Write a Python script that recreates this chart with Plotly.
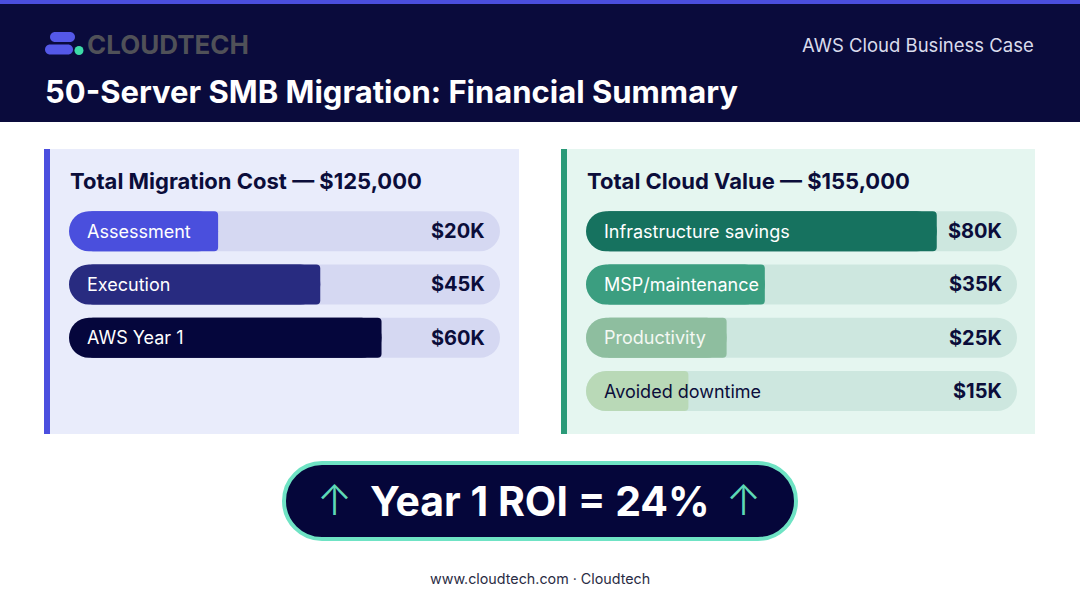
import plotly.graph_objects as go

# ---------------- data ----------------
cost_items = ["Assessment", "Execution", "AWS Year 1"]
cost_values = [20, 45, 60]          # $K
value_items = ["Infrastructure savings", "MSP/maintenance", "Productivity", "Avoided downtime"]
value_values = [80, 35, 25, 15]     # $K
cost_total = 125000
value_total = 155000
roi_pct = 24
brand = "CLOUDTECH"
header_tag = "AWS Cloud Business Case"
main_title = "50-Server SMB Migration: Financial Summary"
footer = "www.cloudtech.com · Cloudtech"

# ---------------- style ----------------
W, H = 1080, 603
FONT = "Inter"
NAVY = "#0A0B3C"
INK = "#0B0D3A"

def px(x):
    return x / W

def py(y):
    return 1 - y / H

def P(x, y):
    return f"{px(x):.5f},{py(y):.5f}"

def rounded_path(x0, y0, x1, y1, r):
    k = 0.5523 * r
    return (f"M {P(x0 + r, y0)} L {P(x1 - r, y0)} "
            f"C {P(x1 - r + k, y0)} {P(x1, y0 + r - k)} {P(x1, y0 + r)} "
            f"L {P(x1, y1 - r)} "
            f"C {P(x1, y1 - r + k)} {P(x1 - r + k, y1)} {P(x1 - r, y1)} "
            f"L {P(x0 + r, y1)} "
            f"C {P(x0 + r - k, y1)} {P(x0, y1 - r + k)} {P(x0, y1 - r)} "
            f"L {P(x0, y0 + r)} "
            f"C {P(x0, y0 + r - k)} {P(x0 + r - k, y0)} {P(x0 + r, y0)} Z")

def rect(x0, y0, x1, y1, color):
    return dict(type="rect", xref="paper", yref="paper", layer="below",
                x0=px(x0), x1=px(x1), y0=py(y1), y1=py(y0),
                fillcolor=color, line=dict(width=0))

def rpath(x0, y0, x1, y1, r, color, line=None, layer="below"):
    return dict(type="path", xref="paper", yref="paper", layer=layer,
                path=rounded_path(x0, y0, x1, y1, r), fillcolor=color,
                line=line or dict(width=0))

shapes = [
    rect(0, 0, W, H, "#FFFFFF"),
    rect(0, 0, W, 122, NAVY),
    rect(0, 0, W, 4, "#4B4EDD"),
    # logo
    rpath(50, 32, 75, 42, 5, "#5458E8"),
    rpath(45, 44.5, 73, 54.5, 5, "#5458E8"),
    dict(type="circle", xref="paper", yref="paper", layer="below",
         x0=px(74.5), x1=px(83.5), y0=py(55), y1=py(46),
         fillcolor="#3DDBA8", line=dict(width=0)),
    # panels
    rect(44, 149, 519, 434, "#E9ECFB"),
    rect(44, 149, 50, 434, "#4B4FDF"),
    rect(561, 149, 1035, 434, "#E5F6F0"),
    rect(561, 149, 567, 434, "#2A9A78"),
    # ROI pill
    rpath(284, 463, 796, 539, 38, "#05063A", line=dict(color="#6FE3C4", width=4)),
]

TRACK_PX = 431
ROW_TOP, ROW_STEP, NROWS = 204.5, 53.3, 4
BAR_PX = 40

fig = go.Figure()
annotations = []

def panel(items, values, xa, xref, pad, vmax, track_color, fills, label_colors):
    n = len(items)
    rows = list(range(n))
    u = (vmax + pad) / TRACK_PX          # data units per pixel
    w = BAR_PX / ROW_STEP
    common = dict(orientation="h", y=rows, width=w, xaxis=xa, yaxis="y",
                  hoverinfo="skip", showlegend=False)
    # track
    fig.add_bar(x=[vmax + pad] * n, base=[-pad] * n,
                marker=dict(color=track_color, cornerradius=BAR_PX // 2, line=dict(width=0)), **common)
    # fill: pill-shaped bar + body with small corner radius on top of it
    fig.add_bar(x=[v + pad for v in values], base=[-pad] * n,
                marker=dict(color=fills, cornerradius=BAR_PX // 2, line=dict(width=0)), **common)
    start = -pad + (BAR_PX / 2) * u
    fig.add_bar(x=[v - start for v in values], base=[start] * n,
                marker=dict(color=fills, cornerradius=4, line=dict(width=0)), **common)
    for i, (it, v) in enumerate(zip(items, values)):
        annotations.append(dict(x=-pad, y=i, xref=xref, yref="y", text=it, showarrow=False,
                                xanchor="left", xshift=16, yanchor="middle",
                                font=dict(family=FONT, size=18, color=label_colors[i])))
        annotations.append(dict(x=vmax, y=i, xref=xref, yref="y", text=f"${v}K", showarrow=False,
                                xanchor="right", xshift=-13, yanchor="middle",
                                font=dict(family=FONT, size=20, color=INK, weight=700)))

panel(cost_items, cost_values, "x", "x", 16.5, 89, "#D5D8F2",
      ["#4A4FDD", "#282B80", "#05063C"], ["#FFFFFF"] * 3)
panel(value_items, value_values, "x2", "x2", 11.8, 101, "#CDE7DF",
      ["#16725F", "#3B9E80", "#8EBE9F", "#B9D9B7"],
      ["#FFFFFF", "#FFFFFF", "#F4F8F3", INK])

def txt(x, y, text, size, color, weight=400, xanchor="left", family=FONT):
    annotations.append(dict(x=px(x), y=py(y), xref="paper", yref="paper", text=text,
                            showarrow=False, xanchor=xanchor, yanchor="middle",
                            font=dict(family=family, size=size, color=color, weight=weight)))

txt(85, 45, brand, 26, "#505158", 700)
txt(1036, 45, header_tag, 18.5, "#DADCEC", 400, "right")
txt(43, 92, main_title, 31, "#FFFFFF", 700)
txt(68, 181, f"Total Migration Cost — ${cost_total:,}", 22, INK, 700)
txt(585, 181, f"Total Cloud Value — ${value_total:,}", 22, INK, 700)
txt(540, 501, f"Year 1 ROI = {roi_pct}%", 41, "#FFFFFF", 700, "center")
txt(334, 499, "↑", 42, "#5ED9B5", 300, "center")
txt(743, 499, "↑", 42, "#5ED9B5", 300, "center")
txt(540, 578, footer, 14.3, "#2A2C44", 400, "center")

ydom = [py(ROW_TOP + ROW_STEP * NROWS), py(ROW_TOP)]
fig.update_layout(
    width=W, height=H, margin=dict(l=0, r=0, t=0, b=0),
    paper_bgcolor="#FFFFFF", plot_bgcolor="rgba(0,0,0,0)",
    barmode="overlay", showlegend=False,
    shapes=shapes, annotations=annotations,
    xaxis=dict(domain=[px(69), px(69 + TRACK_PX)], range=[-16.5, 89], visible=False, fixedrange=True),
    xaxis2=dict(domain=[px(586), px(586 + TRACK_PX)], range=[-11.8, 101], visible=False,
                fixedrange=True, anchor="y"),
    yaxis=dict(domain=ydom, range=[NROWS - 0.5, -0.5], visible=False, fixedrange=True),
)

fig.write_html("out.html", config={"displayModeBar": False},
               post_script="document.body.style.margin='0';")
